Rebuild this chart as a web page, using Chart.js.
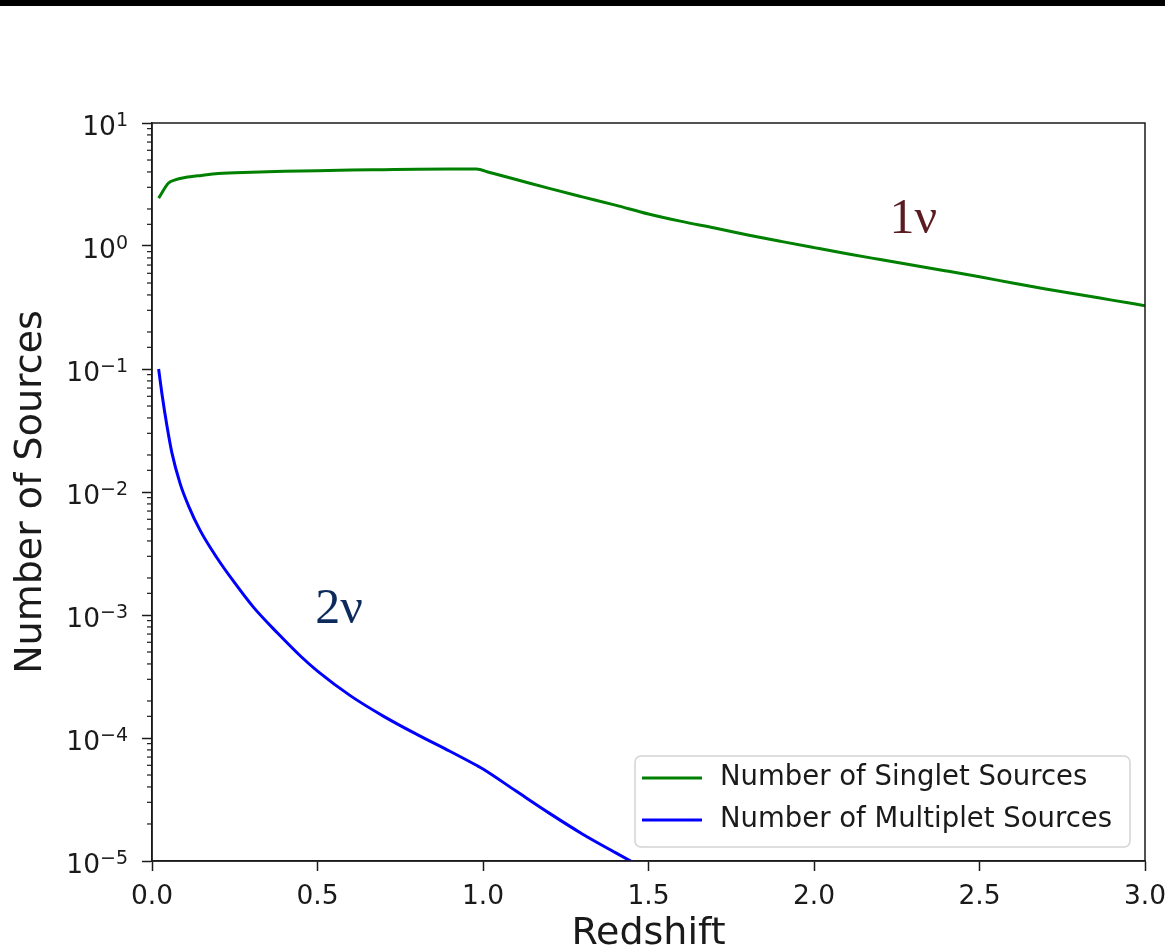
<!DOCTYPE html>
<html>
<head>
<meta charset="utf-8">
<script src="https://cdn.jsdelivr.net/npm/chart.js@4.4.1/dist/chart.umd.min.js"></script>
<style>
  html, body { margin: 0; padding: 0; background: #fff; }
  #wrap { position: relative; width: 1165px; height: 952px; }
  #topbar { position: absolute; left: 0; top: 0; width: 1165px; height: 6px; background: #000; }
  canvas { display: block; }
</style>
</head>
<body>
<div id="wrap">
  <canvas id="chart" width="1165" height="952"></canvas>
  <div id="topbar"></div>
</div>
<script>
// redshift grid and source counts
const singletRedshift = [0.02, 0.05, 0.07, 0.1, 0.15, 0.2, 0.3, 0.4, 0.5, 0.6, 0.7, 0.8, 0.9, 0.98, 1.02,
  1.1, 1.2, 1.3, 1.4, 1.5, 1.6, 1.7, 1.8, 1.9, 2.0, 2.1, 2.2, 2.3, 2.4, 2.5, 2.6, 2.7, 2.8, 2.9, 3.0];
const singletCounts = [2.45, 3.25, 3.45, 3.6, 3.75, 3.88, 3.98, 4.05, 4.1, 4.14, 4.17, 4.2, 4.22, 4.23, 3.96,
  3.47, 2.94, 2.51, 2.15, 1.82, 1.585, 1.40, 1.23, 1.09, 0.97, 0.865, 0.776, 0.697, 0.627, 0.562, 0.50, 0.447, 0.403, 0.363, 0.327];

const multipletRedshift = [0.02, 0.03, 0.045, 0.06, 0.085, 0.11, 0.145, 0.195, 0.245, 0.305, 0.38, 0.45, 0.5,
  0.6, 0.7, 0.8, 0.9, 0.98, 1.0, 1.1, 1.2, 1.3, 1.4, 1.5];
const multipletCounts = [0.1, 0.063, 0.0347, 0.0209, 0.0117, 0.00776, 0.0049, 0.00295, 0.0019, 0.00117, 7.1e-4, 4.6e-4, 3.5e-4,
  2.2e-4, 1.5e-4, 1.07e-4, 7.8e-5, 6.0e-5, 5.6e-5, 3.7e-5, 2.45e-5, 1.66e-5, 1.17e-5, 8.3e-6];

const seriesNames = ["Number of Singlet Sources", "Number of Multiplet Sources"];
const seriesColors = ["#008000", "#0000ff"];

// curve tags: text, redshift, count
const tagText = ["1ν", "2ν"];
const tagRedshift = [2.30, 0.565];
const tagCount = [1.62, 1.1e-3];

const INK = "#1a1a1a";
const SANS = "'DejaVu Sans', sans-serif";

const isDecade = (v) => {
  const l = Math.log10(v);
  return Math.abs(l - Math.round(l)) < 1e-9;
};

// closed box around the plot + short minor ticks on the log axis
const frame = {
  id: "frame",
  afterDraw(chart) {
    const { ctx, chartArea: a, scales: { y } } = chart;
    ctx.save();
    ctx.strokeStyle = INK;
    ctx.lineWidth = 1.5;
    ctx.strokeRect(a.left, a.top, a.right - a.left, a.bottom - a.top);
    ctx.lineWidth = 1.2;
    y.ticks.forEach(t => {
      if (isDecade(t.value)) return;
      const py = y.getPixelForValue(t.value);
      ctx.beginPath();
      ctx.moveTo(a.left - 5, py);
      ctx.lineTo(a.left, py);
      ctx.stroke();
    });
    ctx.restore();
  }
};

// "10" with a raised exponent at every decade of the y axis
const powerLabels = {
  id: "powerLabels",
  afterDraw(chart) {
    const { ctx, scales: { y } } = chart;
    const right = y.right - 24;
    ctx.save();
    ctx.fillStyle = INK;
    ctx.textAlign = "left";
    ctx.textBaseline = "alphabetic";
    y.ticks.forEach(t => {
      if (!isDecade(t.value)) return;
      const py = y.getPixelForValue(t.value);
      const exp = String(Math.round(Math.log10(t.value))).replace("-", "\u2212");
      ctx.font = "19px " + SANS;
      const ew = ctx.measureText(exp).width;
      ctx.font = "26.5px " + SANS;
      const bw = ctx.measureText("10").width;
      const x0 = right - ew - bw;
      ctx.fillText("10", x0, py + 12);
      ctx.font = "19px " + SANS;
      ctx.fillText(exp, x0 + bw, py + 3);
    });
    ctx.restore();
  }
};

// legend box in the lower right corner of the plot
const boxLegend = {
  id: "boxLegend",
  afterDraw(chart) {
    const { ctx, chartArea: a } = chart;
    const w = 495, h = 91;
    const x0 = a.right - 15 - w, y0 = a.bottom - 14 - h;
    ctx.save();
    ctx.beginPath();
    ctx.roundRect(x0, y0, w, h, 6);
    ctx.fillStyle = "rgba(255,255,255,0.8)";
    ctx.fill();
    ctx.strokeStyle = "#d4d4d4";
    ctx.lineWidth = 1.5;
    ctx.stroke();
    ctx.font = "27.5px " + SANS;
    ctx.textBaseline = "middle";
    ctx.textAlign = "left";
    chart.data.datasets.forEach((ds, i) => {
      const cy = y0 + 22 + i * 42;
      ctx.strokeStyle = ds.borderColor;
      ctx.lineWidth = 3;
      ctx.beginPath();
      ctx.moveTo(x0 + 7, cy);
      ctx.lineTo(x0 + 67, cy);
      ctx.stroke();
      ctx.fillStyle = INK;
      ctx.fillText(ds.label, x0 + 85, cy);
    });
    ctx.restore();
  }
};

// 1ν / 2ν tags placed in data coordinates
const curveTags = {
  id: "curveTags",
  afterDatasetsDraw(chart) {
    const { ctx, scales: { x, y } } = chart;
    const colors = ["#5a1b21", "#0c2a5c"];
    const sizes = [50, 50];
    ctx.save();
    ctx.textAlign = "center";
    ctx.textBaseline = "middle";
    tagText.forEach((t, i) => {
      ctx.font = sizes[i] + "px 'Liberation Serif', 'DejaVu Serif', serif";
      ctx.fillStyle = colors[i];
      ctx.fillText(t, x.getPixelForValue(tagRedshift[i]), y.getPixelForValue(tagCount[i]));
    });
    ctx.restore();
  }
};

const toPoints = (xs, ys) => xs.map((z, i) => ({ x: z, y: ys[i] }));

new Chart(document.getElementById("chart"), {
  type: "line",
  data: {
    datasets: [
      {
        label: seriesNames[0],
        data: toPoints(singletRedshift, singletCounts),
        borderColor: seriesColors[0],
        borderWidth: 3,
        pointRadius: 0,
        cubicInterpolationMode: "monotone",
      },
      {
        label: seriesNames[1],
        data: toPoints(multipletRedshift, multipletCounts),
        borderColor: seriesColors[1],
        borderWidth: 3,
        pointRadius: 0,
        cubicInterpolationMode: "monotone",
      },
    ],
  },
  options: {
    responsive: false,
    animation: false,
    devicePixelRatio: 1,
    layout: { padding: { top: 123, right: 20, left: 0, bottom: 0 } },
    plugins: {
      legend: { display: false },
      tooltip: { enabled: false },
    },
    scales: {
      x: {
        type: "linear",
        min: 0,
        max: 3,
        afterFit: (s) => {
          s.height = 91;
          s.paddingLeft = 0;
          s.paddingRight = 0;
        },
        ticks: {
          stepSize: 0.5,
          color: INK,
          font: { family: SANS, size: 26.5 },
          padding: 10,
          maxRotation: 0,
          callback: (v) => v.toFixed(1),
        },
        grid: { drawOnChartArea: false, tickLength: 10, tickColor: INK, tickWidth: 1.5 },
        border: { color: INK, width: 1.5 },
        title: {
          display: true,
          text: "Redshift",
          color: INK,
          font: { family: SANS, size: 38 },
          padding: { top: 0, bottom: -5 },
        },
      },
      y: {
        type: "logarithmic",
        min: 1e-5,
        max: 10,
        afterFit: (s) => {
          s.width = 152;
          s.paddingTop = 0;
          s.paddingBottom = 0;
        },
        ticks: { display: false, autoSkip: false },
        grid: {
          drawOnChartArea: false,
          tickLength: 10,
          tickWidth: 1.5,
          tickColor: (c) => (c.tick && isDecade(c.tick.value) ? INK : "rgba(0,0,0,0)"),
        },
        border: { color: INK, width: 1.5 },
        title: {
          display: true,
          text: "Number of Sources",
          color: INK,
          font: { family: SANS, size: 38 },
          padding: { top: 8, bottom: 0 },
        },
      },
    },
  },
  plugins: [frame, powerLabels, boxLegend, curveTags],
});
</script>
</body>
</html>
